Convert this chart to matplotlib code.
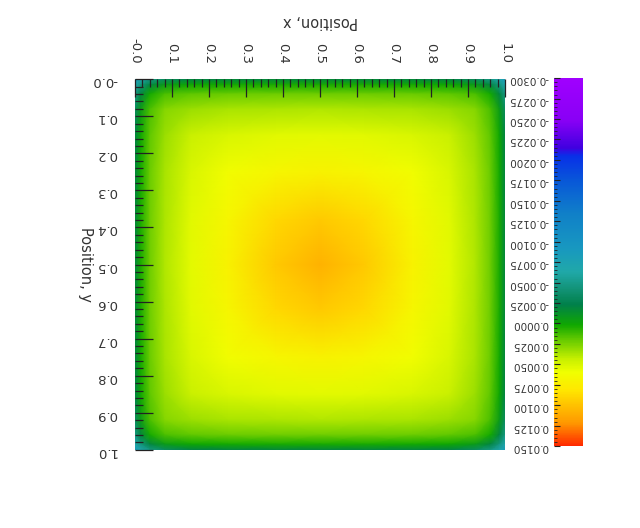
import numpy as np
import matplotlib
matplotlib.use("Agg")
import matplotlib.pyplot as plt
from matplotlib.colors import LinearSegmentedColormap, Normalize
from matplotlib.ticker import MultipleLocator

grid_pos = [0.0, 0.015, 0.04, 0.08, 0.15, 0.25, 0.38, 0.5, 0.62, 0.75, 0.85, 0.92, 0.96, 0.985, 1.0]

# field values, row = y position (top to bottom), column = x position
field = [
    [-0.0085, -0.0068, -0.0048, -0.0033, -0.0022, -0.0020, -0.0019, -0.0019, -0.0019, -0.0020, -0.0022, -0.0033, -0.0048, -0.0068, -0.0085],
    [-0.0068, -0.0045, -0.0020, -0.0006, 0.0001, 0.0003, 0.0004, 0.0004, 0.0004, 0.0003, 0.0001, -0.0006, -0.0020, -0.0045, -0.0068],
    [-0.0048, -0.0020, 0.0003, 0.0014, 0.0019, 0.0021, 0.0022, 0.0022, 0.0022, 0.0021, 0.0019, 0.0014, 0.0003, -0.0020, -0.0048],
    [-0.0033, -0.0006, 0.0014, 0.0027, 0.0033, 0.0036, 0.0037, 0.0038, 0.0037, 0.0036, 0.0033, 0.0027, 0.0014, -0.0006, -0.0033],
    [-0.0022, 0.0001, 0.0019, 0.0033, 0.0044, 0.0050, 0.0054, 0.0055, 0.0054, 0.0050, 0.0044, 0.0033, 0.0019, 0.0001, -0.0022],
    [-0.0020, 0.0003, 0.0021, 0.0036, 0.0050, 0.0062, 0.0068, 0.0071, 0.0068, 0.0062, 0.0050, 0.0036, 0.0021, 0.0003, -0.0020],
    [-0.0019, 0.0004, 0.0022, 0.0037, 0.0054, 0.0068, 0.0089, 0.0096, 0.0089, 0.0068, 0.0054, 0.0037, 0.0022, 0.0004, -0.0019],
    [-0.0019, 0.0004, 0.0022, 0.0038, 0.0055, 0.0071, 0.0096, 0.0108, 0.0096, 0.0071, 0.0055, 0.0038, 0.0022, 0.0004, -0.0019],
    [-0.0019, 0.0004, 0.0022, 0.0037, 0.0054, 0.0068, 0.0089, 0.0096, 0.0089, 0.0068, 0.0054, 0.0037, 0.0022, 0.0004, -0.0019],
    [-0.0020, 0.0003, 0.0021, 0.0036, 0.0050, 0.0062, 0.0068, 0.0071, 0.0068, 0.0062, 0.0050, 0.0036, 0.0021, 0.0003, -0.0020],
    [-0.0022, 0.0001, 0.0019, 0.0033, 0.0044, 0.0050, 0.0054, 0.0055, 0.0054, 0.0050, 0.0044, 0.0033, 0.0019, 0.0001, -0.0022],
    [-0.0033, -0.0006, 0.0014, 0.0027, 0.0033, 0.0036, 0.0037, 0.0038, 0.0037, 0.0036, 0.0033, 0.0027, 0.0014, -0.0006, -0.0033],
    [-0.0048, -0.0020, 0.0003, 0.0014, 0.0019, 0.0021, 0.0022, 0.0022, 0.0022, 0.0021, 0.0019, 0.0014, 0.0003, -0.0020, -0.0048],
    [-0.0068, -0.0045, -0.0020, -0.0006, 0.0001, 0.0003, 0.0004, 0.0004, 0.0004, 0.0003, 0.0001, -0.0006, -0.0020, -0.0045, -0.0068],
    [-0.0085, -0.0068, -0.0048, -0.0033, -0.0022, -0.0020, -0.0019, -0.0019, -0.0019, -0.0020, -0.0022, -0.0033, -0.0048, -0.0068, -0.0085],
]

x_ticks = [0.0, 0.1, 0.2, 0.3, 0.4, 0.5, 0.6, 0.7, 0.8, 0.9, 1.0]
x_ticklabels = ["-0.0", "0.1", "0.2", "0.3", "0.4", "0.5", "0.6", "0.7", "0.8", "0.9", "1.0"]
y_ticklabels = ["-0.0", "0.1", "0.2", "0.3", "0.4", "0.5", "0.6", "0.7", "0.8", "0.9", "1.0"]

cbar_ticks = [-0.03, -0.0275, -0.025, -0.0225, -0.02, -0.0175, -0.015, -0.0125, -0.01,
              -0.0075, -0.005, -0.0025, 0.0, 0.0025, 0.005, 0.0075, 0.01, 0.0125, 0.015]
cbar_ticklabels = ["-0.0300", "-0.0275", "-0.0250", "-0.0225", "-0.0200", "-0.0175", "-0.0150",
                   "-0.0125", "-0.0100", "-0.0075", "-0.0050", "-0.0025", "0.0000", "0.0025",
                   "0.0050", "0.0075", "0.0100", "0.0125", "0.0150"]

vmin, vmax = -0.03, 0.015

# colour table (value, colour)
cmap_vals = [-0.0300, -0.0248, -0.0215, -0.0205, -0.0174, -0.0134, -0.0092, -0.0063, -0.0039,
             -0.0023, 0.0002, 0.0019, 0.0044, 0.0060, 0.0081, 0.0101, 0.0122, 0.0150]
cmap_cols = ["#a000ff", "#8800f5", "#4000e0", "#0830e8", "#0858d8", "#1080c8", "#1898c0",
             "#20a8a8", "#109070", "#00804a", "#10a800", "#60c800", "#c8f000", "#f0ff00",
             "#ffe800", "#ffc000", "#ff9800", "#ff2800"]

text_col = "#333333"
fs_tick = 9.5
fs_cbar = 7.5
fs_label = 10.5

cmap = LinearSegmentedColormap.from_list(
    "idl_like", [((v - vmin) / (vmax - vmin), c) for v, c in zip(cmap_vals, cmap_cols)], N=512)
norm = Normalize(vmin=vmin, vmax=vmax)

fig = plt.figure(figsize=(6.4, 5.28), dpi=100)
ax = fig.add_axes([0.211, 0.148, 0.578, 0.702])

X, Y = np.meshgrid(grid_pos, grid_pos)
mesh = ax.pcolormesh(X, Y, np.array(field), cmap=cmap, norm=norm, shading="gouraud")

ax.set_xlim(0, 1)
ax.set_ylim(1, 0)
for s in ax.spines.values():
    s.set_visible(False)

# the whole chart is shown mirrored top-to-bottom, so text is drawn upside down
ax.xaxis.tick_top()
ax.xaxis.set_label_position("top")
ax.set_xticks(x_ticks)
ax.set_xticklabels(x_ticklabels, rotation=270, fontsize=fs_tick, color=text_col)
ax.set_yticks(x_ticks)
ax.set_yticklabels(y_ticklabels, rotation=180, fontsize=fs_tick, color=text_col)
ax.xaxis.set_minor_locator(MultipleLocator(0.02))
ax.yaxis.set_minor_locator(MultipleLocator(0.02))
ax.tick_params(which="major", direction="in", length=13, width=0.9, color="#222222")
ax.tick_params(which="minor", direction="in", length=6, width=0.9, color="#222222")
ax.tick_params(axis="x", which="major", pad=11)
ax.tick_params(axis="y", which="major", pad=13)

ax.set_xlabel("Position, x", rotation=180, fontsize=fs_label, color=text_col,
              ha="center", va="center")
ax.xaxis.set_label_coords(0.5, 1.155)
ax.set_ylabel("Position, y", rotation=270, fontsize=fs_label, color=text_col,
              ha="center", va="center")
ax.yaxis.set_label_coords(-0.135, 0.5)

cax = fig.add_axes([0.866, 0.155, 0.045, 0.697])
cbar = fig.colorbar(mesh, cax=cax)
cbar.outline.set_visible(False)
cax.set_ylim(vmax, vmin)
cax.yaxis.set_ticks_position("left")
cax.set_yticks(cbar_ticks)
cax.set_yticklabels(cbar_ticklabels, rotation=180, fontsize=fs_cbar, color=text_col)
cax.yaxis.set_minor_locator(MultipleLocator(0.0005))
cax.tick_params(which="major", direction="in", length=4, width=0.8, color="#222222", pad=4)
cax.tick_params(which="minor", direction="in", length=2, width=0.6, color="#222222")

fig.savefig("out.png", dpi=100)
